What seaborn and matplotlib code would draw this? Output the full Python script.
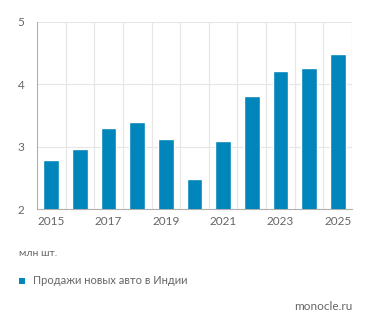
import matplotlib
matplotlib.use("Agg")
import matplotlib.pyplot as plt
import seaborn as sns
import pandas as pd
import numpy as np
from matplotlib.patches import Rectangle

years = [str(y) for y in range(2015, 2026)]
sales = [2.79, 2.96, 3.30, 3.39, 3.12, 2.48, 3.09, 3.82, 4.21, 4.27, 4.48]
yticks = [2, 3, 4, 5]
series_name = "Продажи новых авто в Индии"
unit_label = "млн шт."
source = "monocle.ru"

sns.set_theme(style="white")
plt.rcParams['font.family'] = ['Lato', 'DejaVu Sans']

color = "#0086BA"
txt = "#666666"

df = pd.DataFrame({"year": years, "sales": sales})
fig = plt.figure(figsize=(3.71, 3.30), dpi=100)
ax = fig.add_axes([37/371, 1-209/330, (352-37)/371, (209-22)/330])
sns.barplot(data=df, x="year", y="sales", color=color, width=0.55, ax=ax,
            saturation=1, zorder=3)
ax.set_ylim(2, 5)
ax.set_xlim(-0.5, len(years)-0.5)
ax.set_yticks(yticks)
ax.set_yticklabels([str(v) for v in yticks])
ax.set_xticks(range(0, len(years), 2))
ax.set_xticklabels(years[::2])
ax.set_xticks(np.arange(-0.5, len(years), 1), minor=True)
ax.grid(False)
for v in yticks[1:]:
    ax.axhline(v, color="#e6e6e6", lw=0.8, zorder=1)
for b in np.arange(0.5, len(years), 1):
    ax.axvline(b, color="#e6e6e6", lw=0.8, zorder=1)
ax.axvline(len(years)-0.5, color="#e6e6e6", lw=0.8, zorder=1)
for s in ["top", "right"]:
    ax.spines[s].set_visible(False)
for s in ["left", "bottom"]:
    ax.spines[s].set_color("#b0b0b0")
    ax.spines[s].set_linewidth(0.8)
ax.tick_params(axis="x", which="major", length=0, pad=5, labelsize=8.5, labelcolor=txt)
ax.tick_params(axis="x", which="minor", length=3, color="#b0b0b0", width=0.8)
ax.tick_params(axis="y", which="major", length=3, color="#b0b0b0", width=0.8,
               pad=6, labelsize=8.5, labelcolor=txt)
ax.set_xlabel("")
ax.set_ylabel("")

fig.text(19/371, 1-253/330, unit_label, fontsize=7.5, color=txt, va="center", ha="left")
fig.patches.append(Rectangle((19/371, 1-284/330), 6/371, 6/330, transform=fig.transFigure,
                             facecolor=color, edgecolor="none"))
fig.text(33/371, 1-281/330, series_name, fontsize=8, color=txt, va="center", ha="left")
fig.text(352/371, 1-307/330, source, fontsize=8.5, color=txt, va="center", ha="right")

fig.savefig("out.png", dpi=100)
